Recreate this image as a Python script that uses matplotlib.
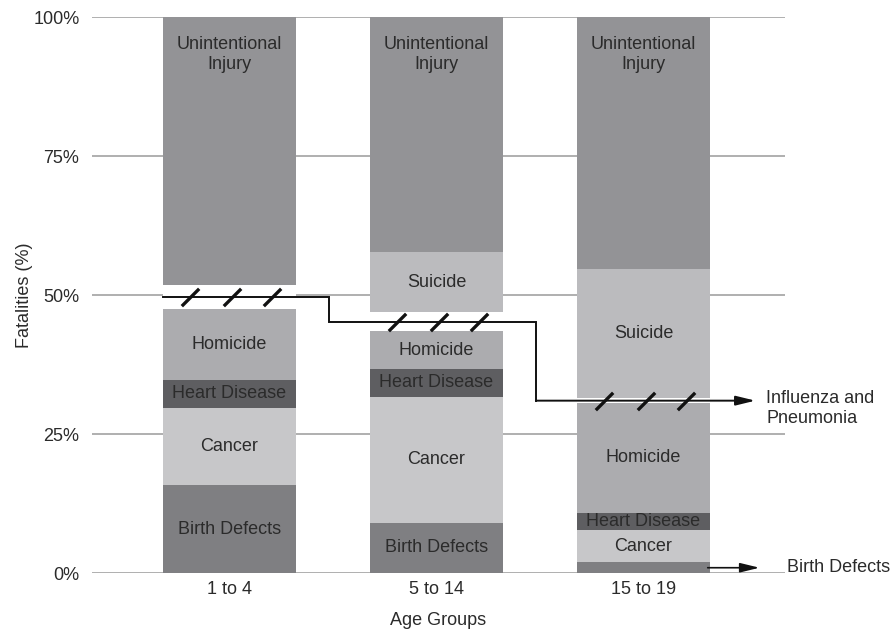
import numpy as np
import matplotlib
matplotlib.use("Agg")
import matplotlib.pyplot as plt

plt.rcParams["font.family"] = ["Liberation Sans", "DejaVu Sans"]
plt.rcParams["font.size"] = 13

groups = ["1 to 4", "5 to 14", "15 to 19"]
causes = ["Birth Defects", "Cancer", "Heart Disease", "Homicide",
          "Influenza and Pneumonia", "Suicide", "Unintentional Injury"]
birth_defects = [15.8, 9.0, 1.9]
cancer = [13.9, 22.7, 5.8]
heart_disease = [5.0, 5.0, 3.1]
homicide = [12.8, 6.8, 19.8]
influenza = [4.3, 3.4, 0.8]
suicide = [0.0, 10.8, 23.3]
unintentional = [48.2, 42.3, 45.3]

series = [birth_defects, cancer, heart_disease, homicide, influenza, suicide, unintentional]
colors = ["#7f7f82", "#c7c7c9", "#5e5e61", "#acacaf", "white", "#bbbbbe", "#939396"]
seg_labels = ["Birth Defects", "Cancer", "Heart Disease", "Homicide", None, "Suicide",
              "Unintentional\nInjury"]
TXT = "#2b2b2b"
W = 0.64

fig = plt.figure(figsize=(8.93, 6.31), dpi=100)
ax = fig.add_axes([0.103, 0.0919, 0.776, 0.8811])
x = np.arange(len(groups))

ax.set_axisbelow(True)
ax.yaxis.grid(True, color="#9a9a9a", lw=1.1)
bottom = np.zeros(len(groups))
for vals, col, lab in zip(series, colors, seg_labels):
    vals = np.array(vals)
    ax.bar(x, vals, W, bottom=bottom, color=col, edgecolor="none", zorder=2)
    for i in range(len(groups)):
        if vals[i] <= 0 or lab is None:
            continue
        if lab == "Birth Defects" and vals[i] < 3:
            # small segment: label outside with an arrow
            yc = bottom[i] + vals[i] / 2
            ax.annotate("", xy=(x[i] + W / 2 + 0.24, yc), xytext=(x[i] + W / 2 - 0.01, yc),
                        arrowprops=dict(arrowstyle="-|>,head_length=0.9,head_width=0.22",
                                        color="#111111", lw=1.2, shrinkA=0, shrinkB=0),
                        zorder=4)
            ax.annotate(lab, xy=(x[i] + W / 2 + 0.24, yc), xytext=(20, 0),
                        textcoords="offset points", ha="left", va="center",
                        color=TXT, annotation_clip=False)
            continue
        if lab.startswith("Unintentional"):
            yc = bottom[i] + vals[i] - 6.7
        else:
            yc = bottom[i] + vals[i] / 2
        ax.text(x[i], yc, lab, ha="center", va="center", color=TXT, zorder=5)
    bottom = bottom + vals

# influenza & pneumonia step line through the gaps
inf_base = np.array(birth_defects) + np.array(cancer) + np.array(heart_disease) + np.array(homicide)
mid = inf_base + np.array(influenza) / 2
px = [x[0] - W / 2]
py = [mid[0]]
for i in range(len(groups) - 1):
    xm = x[i] + 0.48
    px += [xm, xm]
    py += [mid[i], mid[i + 1]]
ax.plot(px, py, color="#111111", lw=1.4, zorder=4, solid_joinstyle="miter")
tip = x[-1] + W / 2 + 0.22
ax.annotate("", xy=(tip, mid[-1]), xytext=(px[-1], mid[-1]),
            arrowprops=dict(arrowstyle="-|>,head_length=0.9,head_width=0.22",
                            color="#111111", lw=1.4, shrinkA=0, shrinkB=0), zorder=4)
ax.annotate("Influenza and\nPneumonia", xy=(tip, mid[-1]), xytext=(8, 8),
            textcoords="offset points", ha="left", va="top", color=TXT,
            linespacing=1.25, annotation_clip=False)

# break slashes
offs = np.array([-0.3, 0.02, 0.32]) * W
for i in range(len(groups)):
    ax.plot(x[i] + offs, [mid[i]] * 3, ls="none", marker=[(-1, -1), (1, 1)],
            ms=12.5, mew=2.4, mec="#111111", zorder=5)

ax.set_xlim(-0.664, 2.683)
ax.set_ylim(0, 100)
ax.set_yticks([0, 25, 50, 75, 100])
ax.set_yticklabels(["0%", "25%", "50%", "75%", "100%"])
ax.set_xticks(x)
ax.set_xticklabels(groups)
ax.tick_params(length=0, colors=TXT)
ax.tick_params(axis="y", pad=9)
ax.tick_params(axis="x", pad=6)
for s in ax.spines.values():
    s.set_visible(False)
ax.set_ylabel("Fatalities (%)", color=TXT, labelpad=0)
ax.set_xlabel("Age Groups", color=TXT, labelpad=10)

fig.savefig("out.png", dpi=100)
